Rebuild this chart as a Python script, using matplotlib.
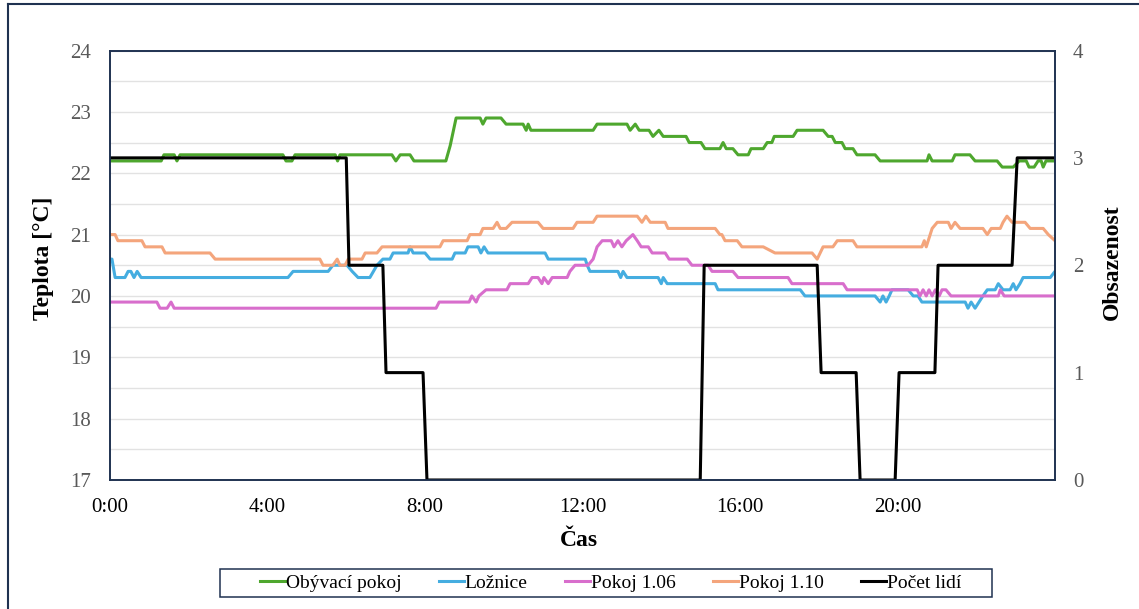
import matplotlib
matplotlib.use("Agg")
import matplotlib.pyplot as plt
from matplotlib.lines import Line2D
from matplotlib.patches import Rectangle
import numpy as np

# ---- data: time of day [h] and readings --------------------------------
t_obyvaci = [0.00, 1.30, 1.37, 1.63, 1.70, 1.78, 4.39, 4.47, 4.62, 4.70, 5.72, 5.78, 5.84,
             7.16, 7.26, 7.37, 7.62, 7.72, 8.53, 8.64, 8.79, 9.40, 9.47, 9.55, 9.93, 10.06,
             10.49, 10.57, 10.62, 10.69, 12.27, 12.37, 13.13, 13.21, 13.34, 13.44, 13.69,
             13.79, 13.94, 14.05, 14.63, 14.71, 15.01, 15.11, 15.49, 15.57, 15.65, 15.82,
             15.95, 16.21, 16.28, 16.59, 16.69, 16.81, 16.87, 17.35, 17.45, 18.11, 18.24,
             18.34, 18.42, 18.59, 18.67, 18.87, 18.97, 19.43, 19.56, 20.75, 20.80, 20.88,
             21.39, 21.46, 21.84, 21.97, 22.53, 22.66, 22.94, 23.09, 23.27, 23.34, 23.47,
             23.57, 23.65, 23.70, 23.77, 24.00]
obyvaci = [22.2, 22.2, 22.3, 22.3, 22.2, 22.3, 22.3, 22.2, 22.2, 22.3, 22.3, 22.2, 22.3,
           22.3, 22.2, 22.3, 22.3, 22.2, 22.2, 22.45, 22.9, 22.9, 22.8, 22.9, 22.9, 22.8,
           22.8, 22.7, 22.8, 22.7, 22.7, 22.8, 22.8, 22.7, 22.8, 22.7, 22.7,
           22.6, 22.7, 22.6, 22.6, 22.5, 22.5, 22.4, 22.4, 22.5, 22.4, 22.4,
           22.3, 22.3, 22.4, 22.4, 22.5, 22.5, 22.6, 22.6, 22.7, 22.7, 22.6,
           22.6, 22.5, 22.5, 22.4, 22.4, 22.3, 22.3, 22.2, 22.2, 22.3, 22.2,
           22.2, 22.3, 22.3, 22.2, 22.2, 22.1, 22.1, 22.2, 22.2, 22.1, 22.1,
           22.2, 22.2, 22.1, 22.2, 22.2]

t_loznice = [0.00, 0.05, 0.13, 0.38, 0.46, 0.53, 0.61, 0.69, 0.79, 4.52, 4.65, 5.54, 5.66,
             6.02, 6.15, 6.30, 6.60, 6.78, 6.93, 7.11, 7.19, 7.57, 7.62, 7.70, 8.00, 8.13,
             8.69, 8.76, 9.02, 9.09, 9.35, 9.42, 9.50, 9.60, 11.05, 11.13, 12.07, 12.12,
             12.19, 12.90, 12.97, 13.03, 13.13, 13.92, 14.00, 14.05, 14.15, 15.37, 15.44,
             17.53, 17.65, 19.43, 19.56, 19.63, 19.71, 19.79, 19.86, 20.27, 20.40, 20.52,
             20.62, 21.72, 21.79, 21.87, 21.97, 22.07, 22.17, 22.28, 22.48, 22.56, 22.68,
             22.86, 22.94, 23.01, 23.11, 23.19, 23.88, 24.00]
loznice = [20.6, 20.6, 20.3, 20.3, 20.4, 20.4, 20.3, 20.4, 20.3, 20.3, 20.4, 20.4, 20.5,
           20.5, 20.4, 20.3, 20.3, 20.5, 20.6, 20.6, 20.7, 20.7, 20.8, 20.7, 20.7, 20.6,
           20.6, 20.7, 20.7, 20.8, 20.8, 20.7, 20.8, 20.7, 20.7, 20.6, 20.6, 20.5,
           20.4, 20.4, 20.3, 20.4, 20.3, 20.3, 20.2, 20.3, 20.2, 20.2, 20.1,
           20.1, 20.0, 20.0, 19.9, 20.0, 19.9, 20.0, 20.1, 20.1, 20.0, 20.0,
           19.9, 19.9, 19.8, 19.9, 19.8, 19.9, 20.0, 20.1, 20.1, 20.2, 20.1,
           20.1, 20.2, 20.1, 20.2, 20.3, 20.3, 20.4]

t_pokoj106 = [0.00, 1.19, 1.27, 1.45, 1.55, 1.63, 8.28, 8.36, 9.12, 9.19, 9.30, 9.37, 9.55,
              10.08, 10.16, 10.62, 10.72, 10.87, 10.97, 11.02, 11.13, 11.23, 11.61, 11.68,
              11.81, 12.14, 12.27, 12.37, 12.50, 12.73, 12.80, 12.90, 13.00, 13.11, 13.28,
              13.39, 13.49, 13.67, 13.77, 14.10, 14.20, 14.66, 14.78, 15.19, 15.29, 15.82,
              15.95, 17.22, 17.32, 18.62, 18.72, 20.50, 20.57, 20.65, 20.73, 20.80, 20.88,
              20.96, 21.06, 21.13, 21.23, 21.36, 22.56, 22.61, 22.71, 24.00]
pokoj106 = [19.9, 19.9, 19.8, 19.8, 19.9, 19.8, 19.8, 19.9, 19.9, 20.0, 19.9, 20.0, 20.1,
            20.1, 20.2, 20.2, 20.3, 20.3, 20.2, 20.3, 20.2, 20.3, 20.3, 20.4,
            20.5, 20.5, 20.6, 20.8, 20.9, 20.9, 20.8, 20.9, 20.8, 20.9, 21.0,
            20.9, 20.8, 20.8, 20.7, 20.7, 20.6, 20.6, 20.5, 20.5, 20.4, 20.4,
            20.3, 20.3, 20.2, 20.2, 20.1, 20.1, 20.0, 20.1, 20.0, 20.1, 20.0,
            20.1, 20.0, 20.1, 20.1, 20.0, 20.0, 20.1, 20.0, 20.0]

t_pokoj110 = [0.00, 0.13, 0.20, 0.81, 0.89, 1.32, 1.40, 2.54, 2.67, 5.33, 5.41, 5.66, 5.77,
              5.84, 5.97, 6.05, 6.40, 6.48, 6.78, 6.91, 8.38, 8.46, 9.07, 9.14, 9.40, 9.47,
              9.73, 9.83, 9.91, 10.06, 10.21, 10.87, 11.00, 11.76, 11.86, 12.27, 12.37,
              13.39, 13.51, 13.61, 13.72, 14.10, 14.17, 15.37, 15.49, 15.54, 15.62, 15.93,
              16.05, 16.59, 16.89, 17.83, 17.96, 18.11, 18.36, 18.47, 18.87, 18.97, 20.62,
              20.68, 20.73, 20.88, 21.01, 21.29, 21.36, 21.46, 21.59, 22.17, 22.28, 22.38,
              22.61, 22.68, 22.78, 22.91, 23.24, 23.37, 23.70, 23.83, 24.00]
pokoj110 = [21.0, 21.0, 20.9, 20.9, 20.8, 20.8, 20.7, 20.7, 20.6, 20.6, 20.5, 20.5, 20.6,
            20.5, 20.5, 20.6, 20.6, 20.7, 20.7, 20.8, 20.8, 20.9, 20.9, 21.0, 21.0, 21.1,
            21.1, 21.2, 21.1, 21.1, 21.2, 21.2, 21.1, 21.1, 21.2, 21.2, 21.3,
            21.3, 21.2, 21.3, 21.2, 21.2, 21.1, 21.1, 21.0, 21.0, 20.9, 20.9,
            20.8, 20.8, 20.7, 20.7, 20.6, 20.8, 20.8, 20.9, 20.9, 20.8, 20.8,
            20.9, 20.8, 21.1, 21.2, 21.2, 21.1, 21.2, 21.1, 21.1, 21.0, 21.1,
            21.1, 21.2, 21.3, 21.2, 21.2, 21.1, 21.1, 21.0, 20.9]

t_lide = [0.00, 6.00, 6.07, 6.93, 7.01, 7.95, 8.05, 14.99, 15.09, 17.96, 18.06, 18.95,
          19.05, 19.94, 20.04, 20.95, 21.03, 22.91, 23.04, 24.00]
pocet_lidi = [3, 3, 2, 2, 1, 1, 0, 0, 2, 2, 1, 1, 0, 0, 1, 1, 2, 2, 3, 3]

series_names = ["Obývací pokoj", "Ložnice", "Pokoj 1.06", "Pokoj 1.10", "Počet lidí"]
x_ticks = [0, 4, 8, 12, 16, 20]
x_tick_labels = ["0:00", "4:00", "8:00", "12:00", "16:00", "20:00"]

# ---- styling -----------------------------------------------------------
plt.rcParams["font.family"] = ["Liberation Serif", "DejaVu Serif"]
colors = ["#4EA72E", "#45ADE0", "#D86ECC", "#F4A57C", "#000000"]
frame_col = "#1F3251"
grey = "#595959"
W, H = 1139, 609

fig = plt.figure(figsize=(W / 100, H / 100), dpi=100)
ax = fig.add_axes([110 / W, 1 - 480 / H, 945 / W, 429.5 / H])
ax2 = ax.twinx()

lw = 2.2
ax.plot(t_obyvaci, obyvaci, color=colors[0], lw=lw, label=series_names[0])
ax.plot(t_loznice, loznice, color=colors[1], lw=lw, label=series_names[1])
ax.plot(t_pokoj106, pokoj106, color=colors[2], lw=lw, label=series_names[2])
ax.plot(t_pokoj110, pokoj110, color=colors[3], lw=lw, label=series_names[3])
ax2.plot(t_lide, pocet_lidi, color=colors[4], lw=lw, label=series_names[4])

ax.set_xlim(0, 24)
ax.set_ylim(17, 24)
ax2.set_ylim(0, 4)
ax.set_xticks(x_ticks)
ax.set_xticklabels(x_tick_labels)
ax.set_yticks(np.arange(17, 25, 1))
ax.set_yticks(np.arange(17, 24.01, 0.5), minor=True)
ax2.set_yticks(np.arange(0, 5, 1))

ax.grid(True, which="both", axis="y", color="#E2E2E2", lw=1.0)
ax.set_axisbelow(True)

ax.tick_params(axis="y", which="both", length=0, labelsize=15, labelcolor=grey, pad=14)
ax.tick_params(axis="x", length=0, labelsize=15, labelcolor="black", pad=13)
ax2.tick_params(axis="y", length=0, labelsize=15, labelcolor=grey, pad=13)

for a in (ax, ax2):
    for s in a.spines.values():
        s.set_color(frame_col)
        s.set_linewidth(1.2)

ax.set_ylabel("Teplota [°C]", fontsize=17, fontweight="bold")
ax.yaxis.label.set_va("center")
ax.yaxis.set_label_coords((44 - 110) / 945, (480 - 258.5) / 429.5)
ax2.set_ylabel("Obsazenost", fontsize=17, fontweight="bold")
ax2.yaxis.label.set_va("center")
ax2.yaxis.set_label_coords((1112 - 110) / 945, (480 - 262) / 429.5)
ax.set_xlabel("Čas", fontsize=17, fontweight="bold")
ax.xaxis.label.set_va("center")
ax.xaxis.set_label_coords((578.5 - 110) / 945, (480 - 540) / 429.5)

# legend entries, with a separate box drawn around them
handles = ax.get_lines() + ax2.get_lines()
leg = fig.legend(handles, series_names, loc="center", ncol=5,
                 bbox_to_anchor=(610.5 / W, 1 - 583 / H), fontsize=14,
                 handlelength=1.3, handletextpad=0.05, columnspacing=1.9,
                 borderpad=0.35, frameon=False, borderaxespad=0)
fig.add_artist(Rectangle((220 / W, 1 - 597 / H), 772 / W, 28 / H,
                         transform=fig.transFigure, fill=False,
                         edgecolor=frame_col, lw=1.1))

# outer chart border (left and top edges)
fig.add_artist(Line2D([8 / W, 8 / W], [0, 1 - 4 / H], color=frame_col, lw=1.5,
                      transform=fig.transFigure))
fig.add_artist(Line2D([8 / W, 1], [1 - 4 / H, 1 - 4 / H], color=frame_col, lw=1.5,
                      transform=fig.transFigure))

fig.savefig("out.png", dpi=100)
